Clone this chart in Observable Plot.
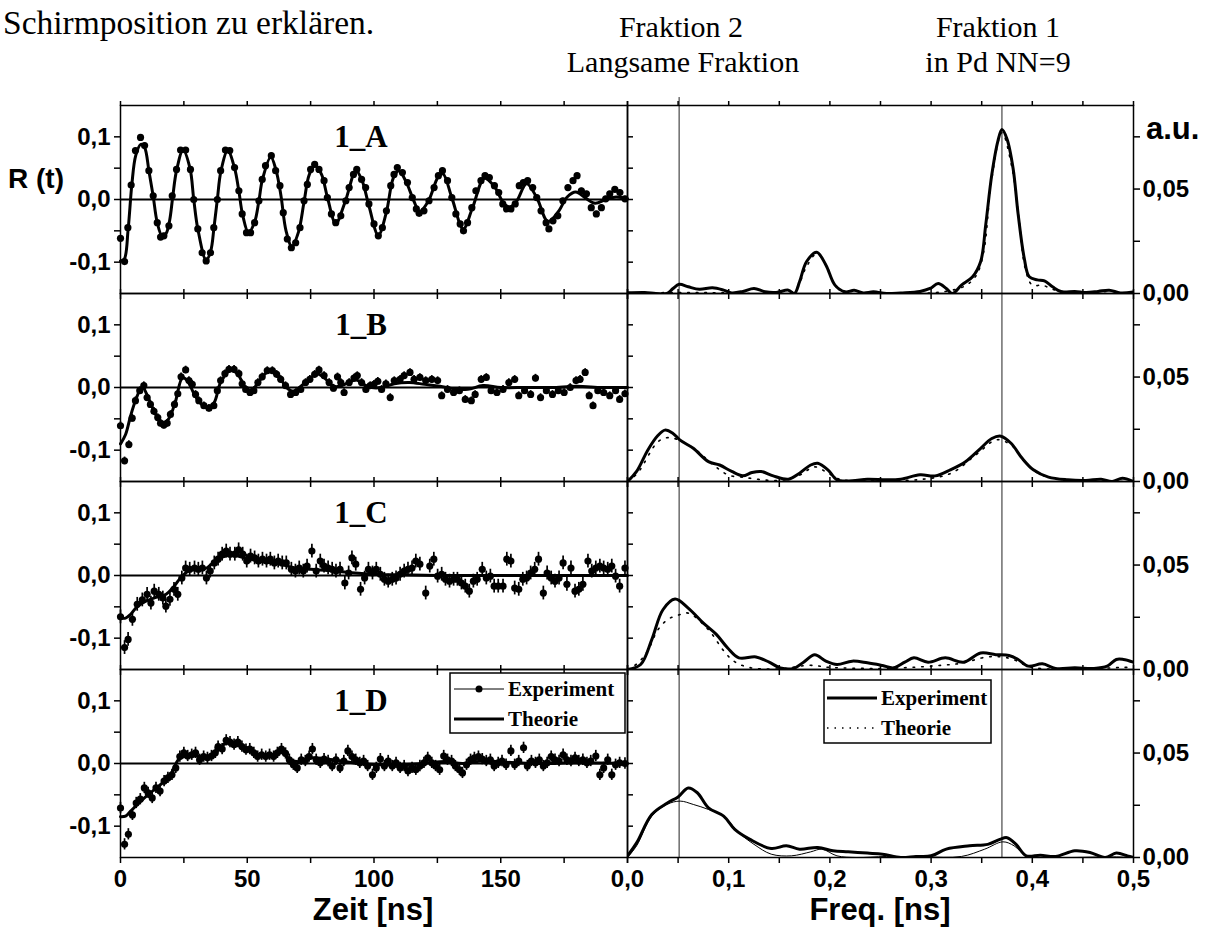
<!DOCTYPE html>
<html>
<head>
<meta charset="utf-8">
<script src="https://cdn.jsdelivr.net/npm/d3@7"></script>
<script src="https://cdn.jsdelivr.net/npm/@observablehq/plot@0.6"></script>
<style>
  html, body { margin: 0; padding: 0; background: #fff; }
  #root { position: relative; width: 1213px; height: 927px; overflow: hidden; background: #fff; }
  .cell { position: absolute; }
</style>
</head>
<body>
<div id="root"></div>
<script>
// ---------------- DATA ----------------
const panelNames = ["1_A", "1_B", "1_C", "1_D"];

// R(t) experiment points [t (ns), R]
const expA = [[0,-0.062],[1.6,-0.099],[2.9,-0.045],[4.2,0.023],[5.9,0.078],[7.9,0.099],[9.5,0.086],[11.2,0.046],[12.9,0.006],[14.5,-0.037],[15.8,-0.06],[17.1,-0.058],[19.1,-0.042],[20.4,0.006],[22.1,0.048],[23.7,0.079],[25.7,0.079],[27.6,0.048],[28.9,0],[30.5,-0.047],[32.2,-0.085],[33.8,-0.098],[35.5,-0.085],[36.8,-0.045],[38.2,0],[39.5,0.046],[41.4,0.079],[43.1,0.078],[45,0.051],[46.7,0.014],[48,-0.023],[49.7,-0.053],[51.3,-0.053],[52.9,-0.037],[54.6,-0.002],[55.9,0.032],[57.2,0.054],[59.5,0.07],[61.2,0.046],[62.9,0.022],[64.2,-0.021],[65.8,-0.063],[67.4,-0.077],[69.1,-0.069],[70.8,-0.045],[72.4,-0.002],[73.7,0.024],[75,0.048],[76.6,0.056],[78.3,0.048],[80.3,0.03],[81.6,0.003],[83.2,-0.023],[84.9,-0.037],[86.9,-0.026],[88.9,-0.002],[90.2,0.019],[91.9,0.04],[93.2,0.048],[95.1,0.032],[96.7,0.019],[98,-0.007],[100,-0.039],[101.7,-0.058],[103.3,-0.045],[104.9,-0.018],[106.6,0.022],[107.9,0.04],[109.2,0.051],[111.2,0.043],[113.2,0.027],[115.1,0.003],[116.7,-0.015],[117.8,-0.022],[119.7,-0.018],[121.7,-0.002],[123.7,0.019],[125.4,0.038],[127,0.046],[129,0.03],[130.7,0.003],[132.3,-0.023],[134,-0.039],[135.3,-0.05],[136.9,-0.037],[138.6,-0.013],[140.2,0.014],[142.2,0.03],[143.8,0.038],[145.5,0.035],[147.5,0.022],[149.2,0.011],[150.8,-0.007],[152.3,-0.015],[154,-0.015],[155.7,-0.007],[157.3,0.022],[158.9,0.027],[160.6,0.03],[162.6,0.019],[164.2,0.003],[165.9,-0.018],[167.9,-0.037],[169,-0.047],[170.6,-0.034],[172.5,-0.026],[174.5,-0.002],[176.5,0.019],[178.5,0.03],[180.1,0.038],[181.8,0.014],[183.8,0.009],[185.7,-0.013],[187.7,-0.023],[189.7,-0.013],[191.4,0.001],[193,0.009],[195,0.016],[197,0.011],[199,0.001]];

const expB = [[0,-0.061],[1.6,-0.117],[3.3,-0.091],[4.6,-0.049],[5.9,-0.021],[7.6,-0.005],[9.2,0.003],[10.5,-0.016],[11.8,-0.027],[13.2,-0.038],[14.7,-0.048],[15.8,-0.057],[17.1,-0.06],[18.4,-0.057],[19.7,-0.043],[21.3,-0.027],[22.6,-0.01],[23.9,0.017],[25.7,0.028],[27,0.011],[28.3,0.005],[29.6,-0.011],[30.9,-0.021],[32.9,-0.029],[34.9,-0.033],[36.8,-0.029],[38.2,-0.005],[39.5,0.011],[41.2,0.022],[42.8,0.029],[44.8,0.029],[46.7,0.022],[48,0.006],[49.4,-0.003],[51.1,-0.008],[52.6,-0.005],[54.2,0.008],[55.9,0.017],[57.9,0.027],[59.9,0.027],[61.6,0.021],[63.2,0.013],[65.1,0.003],[67.1,-0.011],[69.1,-0.008],[71.1,-0.003],[73,0.008],[74.7,0.013],[76.6,0.021],[78.3,0.028],[80.3,0.019],[82.3,0.008],[84,-0.001],[85.6,0.017],[86.9,0.008],[88.2,-0.008],[90.2,0.008],[92.1,0.015],[93.4,0.019],[95.1,0.008],[96.8,-0.003],[98.5,0.003],[100,0.005],[101.5,0.01],[103,-0.003],[104.7,0.006],[106.4,-0.016],[108,0.011],[110.3,0.013],[111.9,0.019],[114.2,0.024],[115.8,0.013],[118.1,0.016],[120.4,0.011],[122.8,0.013],[125.1,0.011],[126.7,-0.013],[129,-0.003],[131.4,-0.008],[133.7,-0.005],[136,-0.019],[138.4,-0.021],[139.9,-0.011],[142.3,0.013],[144.3,0.016],[146.2,-0.005],[148.5,-0.008],[150.9,-0.003],[153.2,0.008],[155.5,0.013],[157.1,-0.013],[159.4,-0.005],[161.8,-0.011],[163.7,0.015],[165.7,-0.016],[168,-0.005],[170.4,-0.011],[172.7,-0.005],[175,-0.008],[177.4,0],[179.7,0.011],[181.3,0.013],[183.3,0.024],[184.9,-0.013],[186.4,-0.029],[188.3,-0.005],[190.6,-0.008],[193,-0.013],[195.3,-0.005],[196.9,-0.019],[199,-0.01]];

const expC = [[0,-0.066],[1.6,-0.115],[3,-0.102],[4.7,-0.07],[6.6,-0.046],[8.6,-0.039],[10.5,-0.03],[12,-0.044],[13.3,-0.025],[15.1,-0.03],[16.7,-0.036],[17.9,-0.049],[19.5,-0.038],[21.1,-0.022],[22.6,-0.03],[24.2,-0.004],[25.7,0.012],[27.3,0.01],[29.2,0.012],[30.7,0.01],[32.3,0.012],[33.9,-0.004],[35.4,0.007],[37,0.02],[38.5,0.026],[40.1,0.034],[41.7,0.039],[43.2,0.034],[45.1,0.034],[46.6,0.041],[48.2,0.034],[49.8,0.023],[51.3,0.031],[52.9,0.028],[54.4,0.023],[56,0.026],[57.6,0.023],[59.1,0.026],[60.7,0.02],[62.2,0.023],[63.8,0.02],[65.4,0.02],[67.4,0.01],[69,0.007],[70.5,0.012],[72.1,0.007],[73.6,0.015],[75.5,0.039],[77.2,0.007],[78.8,0.023],[80.3,0.015],[81.9,0.012],[83.5,0.01],[85,0.007],[86.6,0.01],[88.5,-0.012],[90,0.004],[91.3,0.028],[92.8,0.018],[94.7,-0.022],[96.3,-0.004],[97.8,0.01],[99.4,0.004],[100.9,0.01],[102.5,0.002],[104.1,-0.006],[105.6,-0.009],[107.2,-0.006],[108.7,-0.004],[110.3,0.002],[111.9,0.007],[113.4,0.01],[115,0.012],[116.5,0.023],[118.1,0.018],[120.4,-0.028],[122,0.015],[123.6,0.026],[125.1,-0.001],[126.7,0.002],[128.2,-0.006],[129.8,-0.009],[131.4,-0.006],[132.9,-0.006],[134.5,-0.012],[136,-0.017],[137.6,-0.025],[139.2,-0.009],[140.7,-0.006],[142.7,0.01],[144.3,-0.004],[145.9,-0.001],[147.4,-0.017],[149,-0.017],[150.9,-0.017],[152.4,0.026],[154,0.023],[155.5,-0.02],[157.1,-0.022],[158.7,-0.006],[160.2,-0.004],[161.8,0.004],[163.4,0.01],[164.9,0.026],[166.8,-0.028],[168.3,0.004],[169.9,-0.004],[171.4,-0.009],[173,-0.004],[174.6,0.02],[176.1,-0.014],[177.7,0.012],[179.3,-0.025],[180.8,-0.022],[182.4,-0.014],[184.4,0.023],[185.9,0.007],[187.5,0.012],[189.1,0.015],[190.6,0.012],[192.2,0.01],[193.8,0.015],[195.3,-0.001],[196.9,-0.017],[199,0.012]];

const expD = [[0,-0.071],[1.6,-0.129],[3.1,-0.113],[4.7,-0.082],[6.2,-0.063],[7.8,-0.057],[9.4,-0.039],[10.9,-0.047],[12.5,-0.055],[14,-0.039],[15.6,-0.044],[17.2,-0.028],[18.7,-0.023],[20.3,-0.018],[21.8,-0.007],[23.4,0.011],[25,0.017],[26.5,0.012],[28.1,0.014],[29.6,0.017],[31.2,0.006],[32.8,0.011],[34.3,0.009],[35.9,0.012],[37.4,0.017],[38.5,0.027],[40.1,0.023],[41.7,0.037],[43.2,0.034],[44.8,0.03],[46.3,0.034],[47.9,0.027],[49.5,0.022],[51,0.023],[52.6,0.017],[54.1,0.011],[55.7,0.014],[57.3,0.011],[58.8,0.014],[60.4,0.011],[61.9,0.017],[63.5,0.023],[65.1,0.016],[66.6,0.006],[68.2,-0.002],[69.7,-0.007],[71.3,0.006],[72.9,0.004],[74.4,0.011],[75.7,0.023],[77.2,0.006],[78.8,0.001],[80.3,0.007],[81.9,0.004],[83.5,-0.004],[85,0.006],[86.6,-0.007],[88.1,0.004],[89.7,0.02],[91.3,0.011],[92.8,0.006],[94.4,0.001],[95.9,0.004],[97.5,-0.004],[99.4,-0.018],[100.9,-0.007],[102.5,0.007],[104.1,-0.004],[105.6,0.004],[107.2,-0.004],[108.7,0.001],[110.3,-0.007],[111.9,-0.004],[113.4,-0.012],[115,-0.007],[116.5,-0.01],[118.1,-0.004],[119.7,0.001],[121.2,0.009],[122.8,0.001],[124.3,-0.004],[125.9,-0.01],[127.5,0.012],[129,0.006],[130.6,0.004],[132.1,-0.004],[133.7,-0.01],[134.9,-0.015],[136.5,-0.002],[138.1,0.006],[139.6,0.009],[141.2,0.011],[142.7,0.007],[144.3,0.004],[145.9,0.006],[147.4,-0.004],[149,0.001],[150.5,0.004],[152.1,-0.002],[154,0.02],[155.5,-0.002],[157.1,0.004],[159,0.025],[160.5,-0.004],[162.1,0.004],[163.7,0.001],[165.2,0.006],[166.8,-0.004],[168.3,0.001],[169.9,0.011],[171.4,0.006],[173,0.004],[174.6,0.014],[176.1,0.006],[177.7,0.004],[179.3,0.009],[180.8,0.004],[182.4,0.006],[184,0.001],[185.5,0.004],[187.5,0.012],[189.1,-0.018],[190.6,-0.007],[192.2,0.006],[193.8,-0.018],[195.3,-0.002],[196.9,0.001],[199,0]];

// half length of the error bars per panel
const expErr = [0.004, 0.006, 0.011, 0.009];

// R(t) theory curves [t (ns), R]
const thA = [[0,-0.098],[1.5,-0.095],[3,-0.048],[4.5,0.025],[6,0.07],[8,0.088],[9.5,0.083],[11.2,0.046],[12.9,0.005],[14.5,-0.037],[16.4,-0.058],[18,-0.054],[19.4,-0.033],[20.6,0.004],[22.1,0.046],[24.7,0.079],[27.4,0.05],[28.9,0],[30.5,-0.047],[33.8,-0.097],[35.6,-0.082],[36.9,-0.044],[38.2,0],[39.6,0.045],[42.3,0.078],[45,0.05],[46.7,0.013],[48.2,-0.025],[50.5,-0.053],[52.9,-0.036],[54.6,-0.002],[56,0.032],[59.3,0.068],[61.4,0.046],[63.3,0.006],[65.3,-0.05],[67.6,-0.075],[70.2,-0.052],[72.4,-0.004],[74.5,0.04],[76.8,0.054],[79.3,0.04],[81.6,0.004],[84.9,-0.038],[88.6,-0.004],[92.9,0.046],[95.3,0.03],[98,-0.01],[101.7,-0.057],[104.9,-0.02],[107.6,0.034],[109.8,0.046],[112.8,0.027],[115.5,0],[118,-0.019],[121.5,-0.002],[125.3,0.036],[127.2,0.041],[130.7,0.003],[135.2,-0.047],[138.8,-0.014],[143.6,0.034],[147.6,0.02],[151.2,-0.006],[153.6,-0.012],[156.2,-0.003],[160.2,0.025],[164.2,0.003],[168.6,-0.035],[172.6,-0.02],[176.2,0.004],[179.6,0.012],[183.2,0.003],[187.2,-0.006],[191.5,0],[195.5,0.004],[200,0.001]];
const thB = [[0,-0.09],[2,-0.075],[4,-0.045],[6,-0.02],[8.5,0.001],[10.5,-0.012],[13,-0.036],[16.5,-0.058],[19,-0.05],[21.5,-0.025],[24.5,0.016],[26.5,0.01],[29,-0.01],[31.5,-0.025],[34,-0.032],[36.8,-0.025],[39.5,0.008],[43.5,0.028],[46.5,0.02],[49,0],[51,-0.005],[53.5,0.003],[57,0.022],[59.5,0.026],[63,0.014],[66,-0.002],[68.5,-0.006],[72,0.005],[75,0.015],[77.5,0.022],[80.5,0.015],[84,0.002],[86.5,0.002],[90,0.008],[93,0.012],[96,0.005],[99,0],[103,0],[108,0.006],[114,0.008],[120,0.005],[126,0.002],[132,-0.002],[137,-0.003],[143,0.003],[150,0],[160,0],[170,0],[180,0.002],[190,0],[200,0]];
const thC = [[0,-0.068],[2,-0.068],[4,-0.062],[6.5,-0.05],[10,-0.041],[14,-0.035],[18,-0.03],[21,-0.018],[24.5,0],[28,0.009],[31,0.009],[34,0.012],[37,0.022],[40.5,0.03],[45,0.032],[50,0.027],[56,0.022],[62,0.019],[68,0.013],[75,0.01],[82,0.008],[90,0.005],[100,0.002],[110,0.001],[125,0],[150,0],[175,0],[200,0]];
const thD = [[0,-0.085],[2,-0.084],[4,-0.076],[8,-0.06],[12,-0.046],[16,-0.033],[20,-0.016],[23,0.007],[26,0.012],[30,0.012],[34,0.01],[38,0.02],[42,0.033],[46,0.03],[50,0.021],[55,0.014],[60,0.014],[63.5,0.018],[67,0.006],[71,0.003],[76,0.009],[81,0.007],[87,0.004],[94,0],[102,-0.002],[110,-0.002],[120,0],[128,0.003],[135,0],[143,0.004],[152,0.002],[165,0],[180,0.001],[200,0]];

// Spectra, experiment [freq, amplitude]
const spExp1 = [[0,0.0003],[0.017,0.0005],[0.028,0],[0.039,0],[0.045,0.0024],[0.051,0.0044],[0.06,0.0032],[0.071,0.002],[0.084,0.0027],[0.095,0.0016],[0.103,0.0003],[0.114,0.001],[0.125,0.0024],[0.136,0.0008],[0.147,0.0005],[0.159,0.0016],[0.165,0],[0.17,0.0056],[0.177,0.0153],[0.187,0.0197],[0.196,0.0137],[0.205,0.004],[0.215,0.0008],[0.224,0.0015],[0.233,0.0003],[0.243,0.0008],[0.256,0],[0.27,0.0003],[0.289,0.001],[0.299,0.0024],[0.307,0.0048],[0.315,0.0024],[0.321,0],[0.33,0.004],[0.341,0.008],[0.349,0.0153],[0.354,0.033],[0.36,0.057],[0.366,0.073],[0.37,0.0785],[0.375,0.074],[0.381,0.06],[0.386,0.038],[0.392,0.017],[0.397,0.008],[0.405,0.0065],[0.412,0.006],[0.42,0.0032],[0.429,0.0008],[0.442,0.001],[0.453,0.0005],[0.465,0.001],[0.476,0.0016],[0.487,0.0003],[0.5,0.0008]];
const spExp2 = [[0,0],[0.009,0.0048],[0.02,0.015],[0.03,0.022],[0.037,0.0246],[0.045,0.023],[0.052,0.0198],[0.065,0.0159],[0.08,0.0095],[0.091,0.0079],[0.103,0.0048],[0.114,0.0027],[0.123,0.0043],[0.132,0.0048],[0.144,0.0027],[0.159,0.0011],[0.17,0.004],[0.181,0.0079],[0.188,0.0087],[0.198,0.0056],[0.207,0.0008],[0.222,0.0003],[0.237,0.0011],[0.256,0.0008],[0.27,0.0011],[0.289,0.0032],[0.304,0.0027],[0.319,0.0056],[0.334,0.0095],[0.349,0.0159],[0.36,0.0206],[0.369,0.0217],[0.379,0.0183],[0.39,0.0111],[0.401,0.0056],[0.416,0.0021],[0.435,0.0008],[0.453,0.0005],[0.468,0.0011],[0.479,0],[0.489,0.0016],[0.5,0]];
const spExp3 = [[0,0],[0.013,0.0024],[0.024,0.0143],[0.035,0.0286],[0.047,0.0337],[0.06,0.0294],[0.075,0.0222],[0.088,0.0167],[0.099,0.0103],[0.11,0.0056],[0.127,0.006],[0.14,0.0035],[0.151,0.0008],[0.164,0.0005],[0.174,0.0035],[0.185,0.0071],[0.196,0.004],[0.207,0.0024],[0.222,0.004],[0.237,0.0032],[0.252,0.0019],[0.263,0.0008],[0.274,0.0035],[0.283,0.0056],[0.297,0.0035],[0.314,0.0056],[0.332,0.0035],[0.349,0.0079],[0.364,0.0071],[0.377,0.0067],[0.386,0.0048],[0.396,0.0016],[0.41,0.0027],[0.423,0.0005],[0.442,0.0008],[0.461,0.0005],[0.474,0.0016],[0.483,0.0048],[0.49,0.0048],[0.5,0.0035]];
const spExp4 = [[0,0.0008],[0.009,0.007],[0.024,0.0206],[0.039,0.026],[0.05,0.029],[0.06,0.0333],[0.069,0.031],[0.08,0.0238],[0.095,0.0198],[0.106,0.0135],[0.121,0.0087],[0.142,0.0043],[0.157,0.0056],[0.17,0.004],[0.188,0.0048],[0.203,0.0032],[0.218,0.0027],[0.237,0.0021],[0.252,0.0016],[0.27,0],[0.285,0.0005],[0.3,0.0008],[0.315,0.004],[0.338,0.0056],[0.356,0.0063],[0.368,0.0087],[0.375,0.0095],[0.384,0.0063],[0.394,0.0008],[0.408,0.0011],[0.423,0.0005],[0.442,0.0032],[0.457,0.0024],[0.472,0],[0.483,0.0021],[0.494,0.0008],[0.5,0]];

// Spectra, theory [freq, amplitude]
const spTh1 = [[0,0],[0.05,0.0005],[0.1,0.0003],[0.16,0.0003],[0.168,0.003],[0.176,0.012],[0.187,0.019],[0.197,0.013],[0.205,0.004],[0.215,0.0005],[0.25,0.0003],[0.3,0.0003],[0.32,0.0015],[0.335,0.004],[0.345,0.009],[0.352,0.02],[0.36,0.055],[0.37,0.077],[0.38,0.06],[0.387,0.035],[0.393,0.012],[0.4,0.004],[0.41,0.004],[0.42,0.002],[0.44,0.0005],[0.5,0]];
const spTh2 = [[0,0],[0.01,0.004],[0.03,0.019],[0.04,0.021],[0.05,0.02],[0.065,0.016],[0.08,0.01],[0.09,0.006],[0.1,0.003],[0.115,0.002],[0.13,0.001],[0.15,0.0005],[0.17,0.003],[0.185,0.007],[0.198,0.004],[0.21,0.001],[0.25,0.0005],[0.29,0.001],[0.32,0.004],[0.345,0.013],[0.365,0.02],[0.38,0.017],[0.395,0.008],[0.41,0.003],[0.44,0.0005],[0.5,0]];
const spTh3 = [[0,0],[0.01,0.003],[0.02,0.009],[0.03,0.019],[0.04,0.024],[0.05,0.026],[0.06,0.027],[0.08,0.019],[0.095,0.009],[0.105,0.004],[0.12,0.001],[0.15,0.0003],[0.18,0.002],[0.2,0.001],[0.25,0.0005],[0.28,0.001],[0.31,0.002],[0.33,0.003],[0.355,0.006],[0.37,0.006],[0.38,0.005],[0.4,0.001],[0.45,0.0003],[0.49,0.001],[0.5,0.001]];
const spTh4 = [[0,0],[0.009,0.0056],[0.024,0.0198],[0.039,0.0254],[0.052,0.027],[0.065,0.0254],[0.08,0.023],[0.095,0.0198],[0.11,0.0119],[0.125,0.0063],[0.142,0.0016],[0.162,0.0008],[0.181,0.0027],[0.192,0.004],[0.207,0.0008],[0.226,0],[0.256,0.0005],[0.293,0.0003],[0.33,0.0005],[0.353,0.004],[0.371,0.0075],[0.382,0.0056],[0.394,0.0008],[0.423,0],[0.48,0.0003],[0.5,0]];

// marked frequencies (vertical reference lines)
const refFreqs = [0.051, 0.37];

// tick values
const timeTicks = [0, 25, 50, 75, 100, 125, 150, 175, 200];
const timeLabels = [0, 50, 100, 150];
const rTicks = [-0.1, -0.05, 0, 0.05, 0.1];
const rLabels = [-0.1, 0, 0.1];
const freqTicks = [0, 0.05, 0.1, 0.15, 0.2, 0.25, 0.3, 0.35, 0.4, 0.45, 0.5];
const freqLabels = [0, 0.1, 0.2, 0.3, 0.4, 0.5];
const ampTicks = [0, 0.025, 0.05, 0.075];
const ampLabels = [0, 0.05];

// ---------------- LAYOUT ----------------
const expSets = [expA, expB, expC, expD];
const thSets = [thA, thB, thC, thD];
const spExpSets = [spExp1, spExp2, spExp3, spExp4];
const spThSets = [spTh1, spTh2, spTh3, spTh4];

const W = 1213, H = 927;
const rowTops = [105, 293, 481, 669];
const rowH = 188;
const MT = 12;
const SANS = "'Liberation Sans', Arial, Helvetica, sans-serif";
const SERIF = "'Liberation Serif', 'Times New Roman', Times, serif";

const comma = (d, n) => d.toFixed(n).replace(".", ",");
const near = (arr, d) => arr.some(v => Math.abs(v - d) < 1e-9);

const root = document.getElementById("root");
const baseStyle = {
  background: "none", overflow: "visible", maxWidth: "none",
  fontFamily: SANS, fontWeight: "bold", fontSize: "24px", color: "black"
};
function place(node, left, top) {
  const div = document.createElement("div");
  div.className = "cell";
  div.style.left = left + "px";
  div.style.top = top + "px";
  div.appendChild(node);
  root.appendChild(div);
}

const X = d => d[0], Y = d => d[1];

for (let i = 0; i < 4; i++) {
  const bottom = i === 3;
  const MB = bottom ? 46 : 12;
  const exp = expSets[i], err = expErr[i];

  const left = Plot.plot({
    width: 639, height: MT + rowH + MB,
    marginLeft: 120, marginRight: 12, marginTop: MT, marginBottom: MB,
    x: {domain: [0, 200], axis: null},
    y: {domain: [-0.15, 0.15], axis: null},
    style: baseStyle,
    marks: [
      Plot.ruleY([0], {stroke: "black", strokeWidth: 2}),
      Plot.ruleX(exp, {x: X, y1: d => d[1] - err, y2: d => d[1] + err, stroke: "black", strokeWidth: 1.7}),
      Plot.dot(exp, {x: X, y: Y, r: 3.6, fill: "black", stroke: "none"}),
      Plot.line(thSets[i], {x: X, y: Y, curve: "catmull-rom", stroke: "black", strokeWidth: 3}),
      Plot.frame({stroke: "black", strokeWidth: 1.5}),
      Plot.axisY({anchor: "left", ticks: rTicks, tickSize: 6, tickPadding: 4, strokeWidth: 1.5, label: null,
        fontSize: 24, tickFormat: d => near(rLabels, d) ? comma(d, 1) : ""}),
      Plot.axisY({anchor: "right", ticks: rTicks, tickSize: 5, strokeWidth: 1.5, label: null, tickFormat: () => ""}),
      Plot.axisX({anchor: "top", ticks: timeTicks, tickSize: 5, strokeWidth: 1.5, label: null, tickFormat: () => ""}),
      Plot.axisX({anchor: "bottom", ticks: timeTicks, tickSize: 6, tickPadding: 6, strokeWidth: 1.5, label: null,
        fontSize: 24, tickFormat: d => (bottom && near(timeLabels, d)) ? String(d) : ""})
    ]
  });
  place(left, 0, rowTops[i] - MT);

  const right = Plot.plot({
    width: 608, height: MT + rowH + MB,
    marginLeft: 12, marginRight: 90, marginTop: MT, marginBottom: MB,
    x: {domain: [0, 0.5], axis: null},
    y: {domain: [0, 0.09], axis: null},
    style: baseStyle,
    marks: [
      Plot.ruleX(refFreqs, {stroke: "#222", strokeWidth: 1}),
      // in the top row the first marked line rises a little above the frame
      i === 0 ? Plot.ruleX(refFreqs.slice(0, 1), {y1: 0.09, y2: 0.0938, stroke: "#222", strokeWidth: 1}) : null,
      bottom
        ? Plot.line(spThSets[i], {x: X, y: Y, curve: "catmull-rom", stroke: "black", strokeWidth: 1, clip: true})
        : Plot.line(spThSets[i], {x: X, y: Y, curve: "catmull-rom", stroke: "black", strokeWidth: 1.6,
            strokeDasharray: "1.6 7", clip: true}),
      Plot.line(spExpSets[i], {x: X, y: Y, curve: "catmull-rom", stroke: "black", strokeWidth: 3, clip: true}),
      Plot.frame({stroke: "black", strokeWidth: 1.5}),
      Plot.axisY({anchor: "right", ticks: ampTicks, tickSize: 6, tickPadding: 3, strokeWidth: 1.5, label: null,
        fontSize: 24, tickFormat: d => near(ampLabels, d) ? comma(d, 2) : ""}),
      Plot.axisX({anchor: "top", ticks: freqTicks, tickSize: 5, strokeWidth: 1.5, label: null, tickFormat: () => ""}),
      Plot.axisX({anchor: "bottom", ticks: freqTicks, tickSize: 6, tickPadding: 6, strokeWidth: 1.5, label: null,
        fontSize: 24, tickFormat: d => (bottom && near(freqLabels, d)) ? comma(d, 1) : ""})
    ]
  });
  place(right, 615, rowTops[i] - MT);
}

// ---------------- TEXT OVERLAY (titles, axis titles, panel names, legends) ----------------
const ov = d3.select(root).append("svg")
  .attr("width", W).attr("height", H)
  .style("position", "absolute").style("left", "0px").style("top", "0px")
  .style("pointer-events", "none");

function txt(x, y, s, size, family, weight, anchor = "start") {
  ov.append("text").attr("x", x).attr("y", y).attr("text-anchor", anchor)
    .attr("font-family", family).attr("font-size", size).attr("font-weight", weight)
    .attr("fill", "black").text(s);
}

txt(3, 34, "Schirmposition zu erklären.", 33.5, SERIF, "normal");
txt(681, 37, "Fraktion 2", 30, SERIF, "normal", "middle");
txt(683, 72, "Langsame Fraktion", 30, SERIF, "normal", "middle");
txt(998, 37, "Fraktion 1", 30, SERIF, "normal", "middle");
txt(998, 72, "in Pd NN=9", 30, SERIF, "normal", "middle");

txt(8, 188, "R (t)", 28, SANS, "bold");
txt(1146, 139, "a.u.", 31, SANS, "bold");
txt(373, 920, "Zeit [ns]", 31, SANS, "bold", "middle");
txt(880, 920, "Freq. [ns]", 31, SANS, "bold", "middle");

panelNames.forEach((n, i) => txt(361, rowTops[i] + 42, n, 31, SERIF, "bold", "middle"));

// legend, time domain
ov.append("rect").attr("x", 450).attr("y", 673).attr("width", 175).attr("height", 60)
  .attr("fill", "white").attr("stroke", "black").attr("stroke-width", 1.5);
ov.append("line").attr("x1", 454).attr("x2", 504).attr("y1", 689).attr("y2", 689)
  .attr("stroke", "black").attr("stroke-width", 1);
ov.append("circle").attr("cx", 479).attr("cy", 689).attr("r", 3.5).attr("fill", "black");
txt(508, 696, "Experiment", 21, SERIF, "bold");
ov.append("line").attr("x1", 454).attr("x2", 504).attr("y1", 719).attr("y2", 719)
  .attr("stroke", "black").attr("stroke-width", 3);
txt(508, 726, "Theorie", 21, SERIF, "bold");

// legend, frequency domain
ov.append("rect").attr("x", 824).attr("y", 680).attr("width", 167).attr("height", 63)
  .attr("fill", "white").attr("stroke", "black").attr("stroke-width", 1.5);
ov.append("line").attr("x1", 827).attr("x2", 877).attr("y1", 698).attr("y2", 698)
  .attr("stroke", "black").attr("stroke-width", 3);
txt(881, 705, "Experiment", 21, SERIF, "bold");
ov.append("line").attr("x1", 827).attr("x2", 877).attr("y1", 728).attr("y2", 728)
  .attr("stroke", "black").attr("stroke-width", 1.5).attr("stroke-dasharray", "1.5 6");
txt(881, 735, "Theorie", 21, SERIF, "bold");
</script>
</body>
</html>
